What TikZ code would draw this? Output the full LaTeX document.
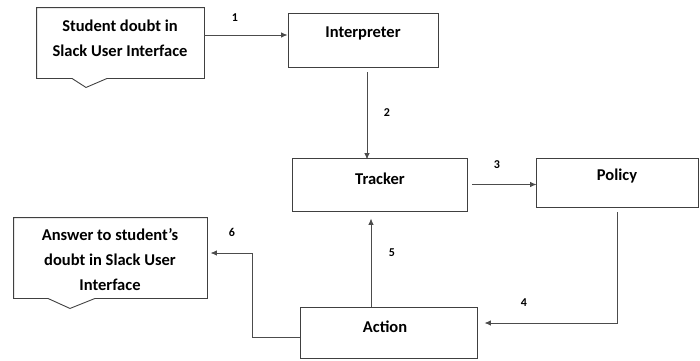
\documentclass[tikz,border=0pt]{standalone}
\usepackage{fontspec}
\setmainfont{Carlito}
\usetikzlibrary{arrows.meta,positioning,calc}

\tikzset{
  box/.style={draw=black!75,line width=0.9pt,minimum width=#1,inner sep=0pt},
  txt/.style={font=\fontsize{16.5}{25}\selectfont\bfseries,align=center,inner sep=0pt},
  num/.style={font=\fontsize{12}{14}\selectfont\bfseries,inner sep=0pt},
  arr/.style={draw=black!70,line width=0.9pt,-{Latex[length=6.5pt,width=5.5pt]}}
}

\begin{document}
\begin{tikzpicture}[x=1pt,y=-1pt]
  \useasboundingbox (0,0) rectangle (700,360);

  % Boxes
  \node[box=167pt,minimum height=70pt,draw=none] (student) at (120.5,43) {};
  \node[box=150pt,minimum height=54pt] (interp) at (363,40) {};
  \node[box=175pt,minimum height=53pt] (tracker) at (379.5,184.5) {};
  \node[box=162pt,minimum height=49pt] (policy) at (617,182.5) {};
  \node[box=177pt,minimum height=51pt] (action) at (388.5,332.5) {};
  \node[box=193pt,minimum height=80pt,draw=none] (answer) at (110.5,258) {};

  % Callouts with a tab at the bottom
  \draw[draw=black!75,line width=0.9pt] (student.north west) -- (student.north east)
    -- (student.south east) -- ([xshift=-13.5pt]student.south)
    -- ([xshift=-34.5pt,yshift=-9pt]student.south)
    -- ([xshift=-48.5pt]student.south) -- (student.south west) -- cycle;
  \draw[draw=black!75,line width=0.9pt] (answer.north west) -- (answer.north east)
    -- (answer.south east) -- ([xshift=-15.5pt]answer.south)
    -- ([xshift=-40.5pt,yshift=-10pt]answer.south)
    -- ([xshift=-62.5pt]answer.south) -- (answer.south west) -- cycle;

  % Texts
  \node[txt] (student-t) at (120,38) {Student doubt in\\Slack User Interface};
  \node[txt] (interp-t) at (363,33) {Interpreter};
  \node[txt] (tracker-t) at (380,179) {Tracker};
  \node[txt] (policy-t) at (617,176) {Policy};
  \node[txt] (action-t) at (385,327) {Action};
  \node[txt] (answer-t) at (110,260) {Answer to student's\\doubt in Slack User\\Interface};

  % Connectors
  \draw[arr] ([yshift=8pt]student.east) -- ([yshift=8pt]student.east -| interp.west);
  \draw[arr,shorten >=3pt] ([xshift=4pt,yshift=-5pt]interp.south)
    -- ([xshift=4pt,yshift=-5pt]interp.south |- tracker.north);
  \draw[arr,shorten >=4pt] ([xshift=5pt]tracker.east) -- ([xshift=5pt]tracker.east -| policy.west);
  \draw[arr] ([yshift=-5pt]policy.south) |- ([xshift=7pt,yshift=9.5pt]action.east);
  \draw[arr,shorten >=7pt] ([xshift=-17.5pt]action.north)
    -- ([xshift=-17.5pt]action.north |- tracker.south);
  \draw[arr] ([yshift=-4.5pt]action.west) -- ++(-47,0)
    |- ([xshift=3pt,yshift=5pt]answer.east);

  % Step numbers
  \node[num] (n1) at (235,18) {1};
  \node[num] (n2) at (387,113) {2};
  \node[num] (n3) at (497,165) {3};
  \node[num] (n4) at (524,303) {4};
  \node[num] (n5) at (392,253) {5};
  \node[num] (n6) at (232,232) {6};
\end{tikzpicture}
\end{document}
